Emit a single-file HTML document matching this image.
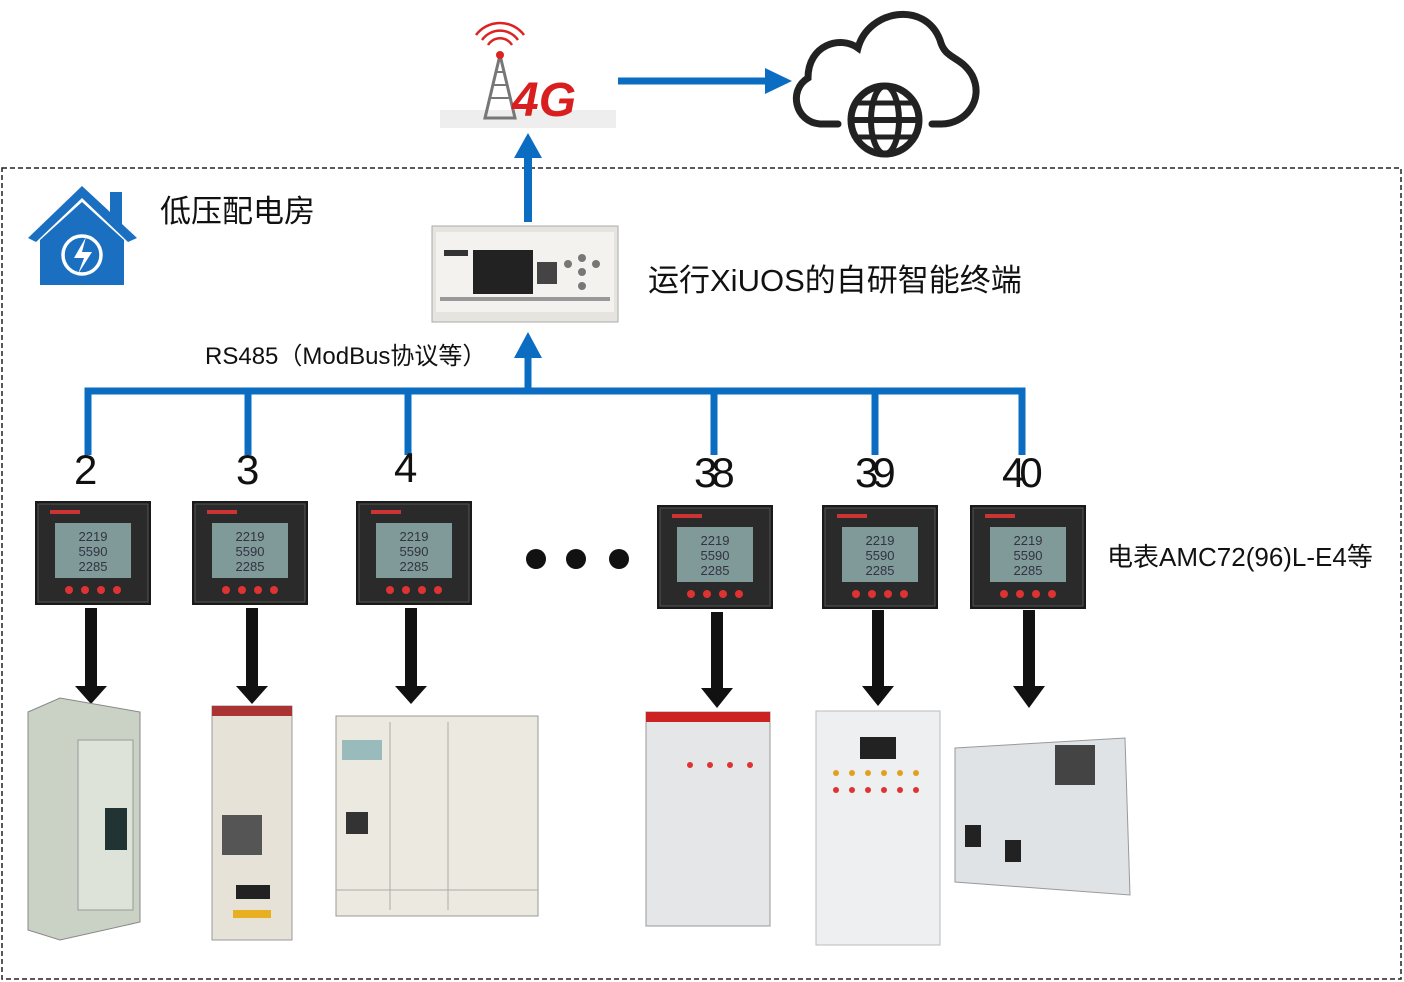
<!DOCTYPE html>
<html><head><meta charset="utf-8"><style>
html,body{margin:0;padding:0;background:#fff;}
svg{display:block;}
text{font-family:"Liberation Sans","Noto Sans CJK SC",sans-serif;}
</style></head><body>
<svg width="1404" height="982" viewBox="0 0 1404 982" xmlns="http://www.w3.org/2000/svg">
<defs>
<g id="meter">
<rect x="0" y="0" width="116" height="104" fill="#1a1a1a"/>
<rect x="3" y="3" width="110" height="98" fill="#2a2a2a" stroke="#555"/>
<rect x="20" y="22" width="76" height="55" fill="#7f9a98"/>
<text x="58" y="40" font-size="13" text-anchor="middle" fill="#334" font-family="Liberation Mono">2219</text>
<text x="58" y="55" font-size="13" text-anchor="middle" fill="#334" font-family="Liberation Mono">5590</text>
<text x="58" y="70" font-size="13" text-anchor="middle" fill="#334" font-family="Liberation Mono">2285</text>
<circle cx="34" cy="89" r="4" fill="#d33"/><circle cx="50" cy="89" r="4" fill="#d33"/><circle cx="66" cy="89" r="4" fill="#d33"/><circle cx="82" cy="89" r="4" fill="#d33"/>
<rect x="15" y="9" width="30" height="4" fill="#c33"/>
</g>
</defs>
<rect x="2" y="168" width="1399" height="811" fill="none" stroke="#222" stroke-width="1.5" stroke-dasharray="5,3"/>

<rect x="440" y="110" width="176" height="18" fill="#eee"/>
<path d="M485 118 L500 55 L515 118 Z" fill="none" stroke="#777" stroke-width="3"/>
<path d="M490 98 L510 98 M493 85 L507 85 M496 72 L504 72" stroke="#777" stroke-width="2"/>
<circle cx="500" cy="55" r="4" fill="#d22"/>
<path d="M488 45 A14 14 0 0 1 512 45 M482 40 A22 22 0 0 1 518 40 M476 35 A30 30 0 0 1 524 35" fill="none" stroke="#d22" stroke-width="2.5"/>
<text x="512" y="116" font-size="48" font-weight="bold" fill="#d81e1e" font-style="italic">4G</text>

<line x1="618" y1="81" x2="770" y2="81" stroke="#0b6dc1" stroke-width="7"/>
<path d="M765 68 L792 81 L765 94 Z" fill="#0b6dc1"/>

<path d="M838 124 L820 124 C795 122 788 90 808 78 C808 45 840 35 858 48 C868 10 925 0 940 40 C945 60 960 55 972 75 C985 100 965 125 940 124 L932 124" fill="none" stroke="#222" stroke-width="7" stroke-linecap="round"/>
<circle cx="885" cy="120" r="34" fill="none" stroke="#222" stroke-width="7"/>
<ellipse cx="885" cy="120" rx="14" ry="34" fill="none" stroke="#222" stroke-width="6"/>
<line x1="851" y1="120" x2="919" y2="120" stroke="#222" stroke-width="6"/>
<path d="M856 103 L914 103 M856 137 L914 137" stroke="#222" stroke-width="5"/>

<line x1="528" y1="222" x2="528" y2="155" stroke="#0b6dc1" stroke-width="8"/>
<path d="M514 158 L528 133 L542 158 Z" fill="#0b6dc1"/>

<path d="M28 238 L82 186 L110 212 L110 192 L122 192 L122 224 L137 238 L128 242 L82 198 L36 242 Z" fill="#1a6fc0"/>
<path d="M40 240 L82 202 L124 240 L124 285 L40 285 Z" fill="#1a6fc0"/>
<circle cx="82" cy="255" r="19" fill="none" stroke="#fff" stroke-width="3.5"/>
<path d="M86 237 L74 258 L84 258 L78 274 L92 252 L82 252 Z" fill="#fff"/>
<text x="160" y="222" font-size="31" fill="#111">低压配电房</text>

<rect x="432" y="226" width="186" height="96" fill="#e6e4df" stroke="#aaa"/>
<rect x="436" y="232" width="178" height="80" fill="#f3f2ee"/>
<rect x="473" y="250" width="60" height="44" fill="#222"/>
<rect x="537" y="262" width="20" height="22" fill="#444"/>
<circle cx="568" cy="264" r="4" fill="#777"/><circle cx="582" cy="258" r="4" fill="#777"/><circle cx="596" cy="264" r="4" fill="#777"/><circle cx="582" cy="272" r="4" fill="#777"/><circle cx="582" cy="286" r="4" fill="#777"/>
<rect x="444" y="250" width="24" height="6" fill="#333"/>
<rect x="440" y="297" width="170" height="4" fill="#999"/>
<text x="648" y="291" font-size="31" fill="#111">运行XiUOS的自研智能终端</text>

<text x="205" y="364" font-size="24" fill="#111">RS485（ModBus协议等）</text>

<path d="M88 455 L88 391 L1022 391 L1022 455 M248 391 L248 455 M408 391 L408 455 M714 391 L714 455 M875 391 L875 455 M528 391 L528 355" fill="none" stroke="#0b6dc1" stroke-width="7"/>
<path d="M514 358 L528 332 L542 358 Z" fill="#0b6dc1"/>

<g font-size="42" font-family="Liberation Mono" fill="#111">
<text x="74" y="484">2</text><text x="236" y="484">3</text><text x="394" y="482">4</text>
<text x="694" y="487" letter-spacing="-6">38</text><text x="855" y="487" letter-spacing="-6">39</text><text x="1002" y="487" letter-spacing="-6">40</text>
</g>

<use href="#meter" x="35" y="501"/>
<use href="#meter" x="192" y="501"/>
<use href="#meter" x="356" y="501"/>
<use href="#meter" x="657" y="505"/>
<use href="#meter" x="822" y="505"/>
<use href="#meter" x="970" y="505"/>

<circle cx="536" cy="559" r="10" fill="#111"/><circle cx="576" cy="559" r="10" fill="#111"/><circle cx="619" cy="559" r="10" fill="#111"/>
<text x="1107" y="566" font-size="26" fill="#111">电表AMC72(96)L-E4等</text>

<g fill="#111">
<rect x="85" y="608" width="12" height="80"/><path d="M75 686 L91 704 L107 686Z"/>
<rect x="246" y="608" width="12" height="80"/><path d="M236 686 L252 704 L268 686Z"/>
<rect x="405" y="608" width="12" height="80"/><path d="M395 686 L411 704 L427 686Z"/>
<rect x="711" y="612" width="12" height="78"/><path d="M701 688 L717 708 L733 688Z"/>
<rect x="872" y="610" width="12" height="78"/><path d="M862 686 L878 706 L894 686Z"/>
<rect x="1023" y="610" width="12" height="78"/><path d="M1013 686 L1029 708 L1045 686Z"/>
</g>

<path d="M28 712 L60 698 L140 712 L140 922 L60 940 L28 930 Z" fill="#c9d2c4" stroke="#888"/>
<rect x="78" y="740" width="55" height="170" fill="#dde3d8" stroke="#999"/>
<rect x="105" y="808" width="22" height="42" fill="#233"/>
<rect x="212" y="706" width="80" height="234" fill="#e6e2d8" stroke="#999"/>
<rect x="212" y="706" width="80" height="10" fill="#a33"/>
<rect x="222" y="815" width="40" height="40" fill="#555"/>
<rect x="236" y="885" width="34" height="14" fill="#222"/>
<rect x="233" y="910" width="38" height="8" fill="#e8b020"/>
<rect x="336" y="716" width="202" height="200" fill="#eceae0" stroke="#999"/>
<path d="M390 722 L390 910 M448 722 L448 910 M336 890 L538 890" stroke="#aaa"/>
<rect x="342" y="740" width="40" height="20" fill="#9bb"/>
<rect x="346" y="812" width="22" height="22" fill="#333"/>
<rect x="646" y="712" width="124" height="214" fill="#e4e6e8" stroke="#999"/>
<rect x="646" y="712" width="124" height="10" fill="#c22"/>
<g fill="#d33"><circle cx="690" cy="765" r="3"/><circle cx="710" cy="765" r="3"/><circle cx="730" cy="765" r="3"/><circle cx="750" cy="765" r="3"/></g>
<rect x="816" y="711" width="124" height="234" fill="#edeff1" stroke="#bbb"/>
<rect x="860" y="737" width="36" height="22" fill="#222"/>
<g fill="#e0a020"><circle cx="836" cy="773" r="3"/><circle cx="852" cy="773" r="3"/><circle cx="868" cy="773" r="3"/><circle cx="884" cy="773" r="3"/><circle cx="900" cy="773" r="3"/><circle cx="916" cy="773" r="3"/></g>
<g fill="#d33"><circle cx="836" cy="790" r="3"/><circle cx="852" cy="790" r="3"/><circle cx="868" cy="790" r="3"/><circle cx="884" cy="790" r="3"/><circle cx="900" cy="790" r="3"/><circle cx="916" cy="790" r="3"/></g>
<path d="M955 748 L1125 738 L1130 895 L955 882 Z" fill="#dfe3e6" stroke="#999"/>
<rect x="1055" y="745" width="40" height="40" fill="#444"/>
<rect x="965" y="825" width="16" height="22" fill="#222"/>
<rect x="1005" y="840" width="16" height="22" fill="#222"/>
</svg>
</body></html>
